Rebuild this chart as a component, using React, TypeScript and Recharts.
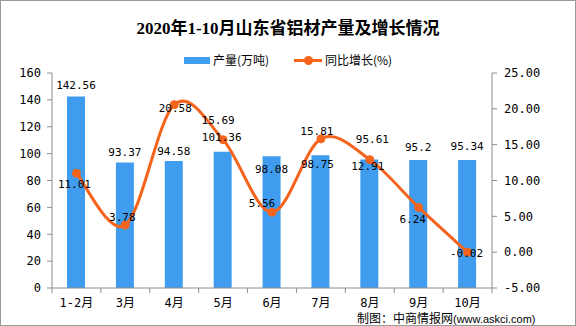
import React from 'react';
import { ComposedChart, Bar, Line, XAxis, YAxis, LabelList } from 'recharts';

const months = ['1-2月', '3月', '4月', '5月', '6月', '7月', '8月', '9月', '10月'];
const output = [142.56, 93.37, 94.58, 101.36, 98.08, 98.75, 95.61, 95.2, 95.34];
const growth = [11.01, 3.78, 20.58, 15.69, 5.56, 15.81, 12.91, 6.24, -0.02];
const leftTicks = [0, 20, 40, 60, 80, 100, 120, 140, 160];
const rightTicks = [-5, 0, 5, 10, 15, 20, 25];

const data = months.map((m, i) => ({ month: m, output: output[i], growth: growth[i] }));

// label nudges, to sit where the original put them
const barLabelShift = [[0, -11], [0, -10], [0, -9], [-1, -14], [0, 13], [-3, 9], [3, -20], [0, -13], [0, -13]];
const lineLabelShift = [[-2, 11], [-3, -8], [1, 4], [-5, -19], [-10, -9], [-4, -7], [-2, 7], [-6, 12], [-1, 1]];

const BLUE = '#3f9cee';
const ORANGE = '#f5641c';
const AXIS = '#8c8c8c';
const NUM_FONT = '"DejaVu Sans Mono", "Noto Sans CJK SC", monospace';

const W = 576;
const H = 326;
const PLOT_LEFT = 52;
const PLOT_RIGHT = 492;
const PLOT_TOP = 73;
const PLOT_BOTTOM = 288;
const BAND = (PLOT_RIGHT - PLOT_LEFT) / months.length;

// Excel-like smoothed line (Catmull-Rom)
function smoothCurve(context: any) {
  let pts: [number, number][] = [];
  return {
    areaStart() {},
    areaEnd() {},
    lineStart() {
      pts = [];
    },
    lineEnd() {
      if (!pts.length) return;
      context.moveTo(pts[0][0], pts[0][1]);
      for (let i = 0; i < pts.length - 1; i++) {
        const p0 = pts[Math.max(i - 1, 0)];
        const p1 = pts[i];
        const p2 = pts[i + 1];
        const p3 = pts[Math.min(i + 2, pts.length - 1)];
        context.bezierCurveTo(
          p1[0] + (p2[0] - p0[0]) / 6,
          p1[1] + (p2[1] - p0[1]) / 6,
          p2[0] - (p3[0] - p1[0]) / 6,
          p2[1] - (p3[1] - p1[1]) / 6,
          p2[0],
          p2[1]
        );
      }
    },
    point(x: number, y: number) {
      pts.push([x, y]);
    },
  };
}

const MonthTick = (props: any) => {
  const { x, payload, index } = props;
  const last = index === months.length - 1;
  return (
    <g>
      <line x1={x - BAND / 2} x2={x - BAND / 2} y1={PLOT_BOTTOM} y2={PLOT_BOTTOM + 5} stroke={AXIS} />
      {last && <line x1={x + BAND / 2} x2={x + BAND / 2} y1={PLOT_BOTTOM} y2={PLOT_BOTTOM + 5} stroke={AXIS} />}
      <text x={x} y={PLOT_BOTTOM + 15} textAnchor="middle" dominantBaseline="central" fontSize={12} fontFamily={NUM_FONT} fill="#000">
        {payload.value}
      </text>
    </g>
  );
};

const BarValue = (props: any) => {
  const { x, y, width, value, index } = props;
  const [dx, dy] = barLabelShift[index] || [0, -10];
  return (
    <text x={x + width / 2 + dx} y={y + dy} textAnchor="middle" dominantBaseline="central" fontSize={11} fontFamily={NUM_FONT} fill="#000">
      {value}
    </text>
  );
};

const LineValue = (props: any) => {
  const { x, y, value, index } = props;
  const [dx, dy] = lineLabelShift[index] || [0, -10];
  return (
    <text x={x + dx} y={y + dy} textAnchor="middle" dominantBaseline="central" fontSize={11} fontFamily={NUM_FONT} fill="#000">
      {value}
    </text>
  );
};

const App: React.FC = () => {
  return (
    <div style={{ position: 'fixed', left: 0, top: 0, width: W, height: H, background: '#fff', overflow: 'hidden' }}>
      <div
        style={{
          position: 'absolute',
          left: 0,
          right: 0,
          top: 18,
          textAlign: 'center',
          fontFamily: '"Liberation Serif", "Noto Sans CJK SC", serif',
          fontWeight: 'bold',
          fontSize: 17,
          lineHeight: '22px',
          color: '#000',
        }}
      >
        2020年1-10月山东省铝材产量及增长情况
      </div>

      <div style={{ position: 'absolute', left: 0, top: 52, width: W, height: 16, fontFamily: '"Noto Sans CJK SC", sans-serif', fontSize: 12 }}>
        <div style={{ position: 'absolute', left: 184, top: 5, width: 26, height: 7, background: BLUE }} />
        <div style={{ position: 'absolute', left: 213, top: 0, lineHeight: '16px' }}>产量(万吨)</div>
        <div style={{ position: 'absolute', left: 294, top: 7, width: 28, height: 3, background: ORANGE }} />
        <div style={{ position: 'absolute', left: 304, top: 4, width: 9, height: 9, borderRadius: 5, background: ORANGE }} />
        <div style={{ position: 'absolute', left: 325, top: 0, lineHeight: '16px' }}>同比增长(%)</div>
      </div>

      <ComposedChart width={W} height={H} data={data} margin={{ top: PLOT_TOP, right: 0, bottom: 0, left: 0 }}>
        <XAxis
          dataKey="month"
          height={H - PLOT_BOTTOM}
          tickLine={false}
          axisLine={{ stroke: AXIS }}
          tick={<MonthTick />}
          interval={0}
        />
        <YAxis
          yAxisId="left"
          width={PLOT_LEFT}
          domain={[0, 160]}
          ticks={leftTicks}
          interval={0}
          tickSize={5}
          tickMargin={6}
          axisLine={{ stroke: AXIS }}
          tickLine={{ stroke: AXIS }}
          tick={{ fontSize: 12, fill: '#000', fontFamily: NUM_FONT }}
        />
        <YAxis
          yAxisId="right"
          orientation="right"
          width={W - PLOT_RIGHT}
          domain={[-5, 25]}
          ticks={rightTicks}
          interval={0}
          tickSize={5}
          tickMargin={7}
          axisLine={{ stroke: AXIS }}
          tickLine={{ stroke: AXIS }}
          tickFormatter={(v: number) => v.toFixed(2)}
          tick={{ fontSize: 12, fill: '#000', fontFamily: NUM_FONT, textAnchor: 'start' }}
        />
        <Bar yAxisId="left" dataKey="output" fill={BLUE} barSize={18} isAnimationActive={false}>
          <LabelList dataKey="output" content={<BarValue />} />
        </Bar>
        <Line
          yAxisId="right"
          dataKey="growth"
          type={smoothCurve as any}
          stroke={ORANGE}
          strokeWidth={3}
          dot={{ r: 4, fill: ORANGE, stroke: ORANGE, strokeWidth: 1 }}
          activeDot={false}
          isAnimationActive={false}
        >
          <LabelList dataKey="growth" content={<LineValue />} />
        </Line>
      </ComposedChart>

      <div style={{ position: 'absolute', left: 357, top: 311, lineHeight: '14px', whiteSpace: 'nowrap', color: '#000' }}>
        <span style={{ fontFamily: '"Noto Sans CJK SC", sans-serif', fontSize: 12 }}>制图：中商情报网</span>
        <span style={{ fontFamily: '"Liberation Sans", Arial, sans-serif', fontSize: 11 }}>(www.askci.com)</span>
      </div>

      <div style={{ position: 'absolute', left: 0, top: 0, width: W, height: H, boxSizing: 'border-box', border: '1px solid #9a9a9a', pointerEvents: 'none' }} />
    </div>
  );
};

export default App;
